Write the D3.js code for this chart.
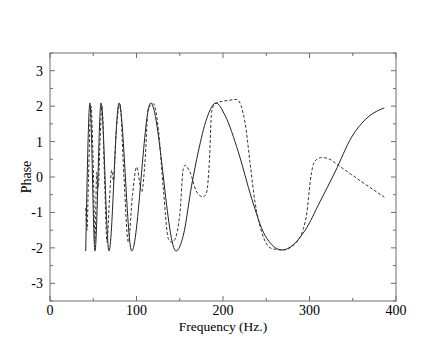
<!DOCTYPE html>
<html>
<head>
<meta charset="utf-8">
<script src="https://cdn.jsdelivr.net/npm/d3@7"></script>
<style>
  body { margin: 0; background: #fff; }
  text { font-family: "Liberation Serif", "DejaVu Serif", serif; }
</style>
</head>
<body>
<div id="chart"></div>
<script>
// data: frequency (Hz.) and phase
const solidFreq  = [41.3, 46.2, 52.0, 59.0, 68.2, 79.8, 94.5, 116.4, 145.7, 154.1, 163.8, 171.4, 181.2, 191.9, 202.3, 217.7, 233.2, 248.6, 268.2, 294.8, 312.1, 329.5, 348.8, 367.6, 386.5];
const solidPhase = [-2.09, 2.09, -2.09, 2.09, -2.09, 2.09, -2.09, 2.09, -2.09, -1.65, -0.23, 0.71, 1.65, 2.09, 1.74, 0.71, -0.61, -1.65, -2.06, -1.51, -0.7, 0.14, 1.13, 1.69, 1.95];

const dashFreq  = [41.3, 42.8, 44.5, 47.4, 50.3, 52.0, 54.0, 55.8, 57.8, 60.1, 63.0, 65.9, 68.8, 71.3, 73.4, 76.3, 80.9, 85.5, 90.5, 95.4, 100.2, 106.0, 109.8, 113.6, 119.4, 125.2, 131.0, 136.8, 140.7, 143.4, 150.3, 154.1, 156.1, 161.8, 169.6, 177.2, 181.2, 184.2, 186.9, 190.8, 208.1, 215.8, 225.4, 231.2, 237.0, 244.7, 256.3, 269.4, 281.3, 292.8, 297.0, 300.5, 304.3, 308.5, 314.3, 323.5, 333.3, 359.5, 386.5];
const dashPhase = [-0.88, -1.5, 0.0, 2.0, 0.0, -1.84, 0.14, -0.3, 1.0, 2.0, 0.0, -1.84, -0.6, 0.19, -0.1, 1.2, 2.05, 0.0, -1.84, -0.5, 0.28, -0.42, 0.42, 1.93, 2.07, 1.37, -0.33, -1.74, -1.84, -1.8, -0.99, 0.24, 0.33, 0.14, -0.42, -0.56, -0.42, 0.42, 1.84, 2.07, 2.17, 2.19, 1.55, 0.42, -0.71, -1.55, -2.02, -2.06, -1.93, -1.46, -1.0, -0.2, 0.35, 0.5, 0.55, 0.5, 0.33, -0.12, -0.57];

const xTicks = [0, 100, 200, 300, 400];
const yTicks = [-3, -2, -1, 0, 1, 2, 3];

const W = 445, H = 354;
const margin = {top: 53, right: 49, bottom: 53, left: 50};
const width = W - margin.left - margin.right;
const height = H - margin.top - margin.bottom;

const svg = d3.select("#chart").append("svg")
  .attr("width", W).attr("height", H);

const g = svg.append("g")
  .attr("transform", `translate(${margin.left},${margin.top})`);

const x = d3.scaleLinear().domain([0, 400]).range([0, width]);
const y = d3.scaleLinear().domain([-3.5, 3.5]).range([height, 0]);

const axisColor = "#6e6e6e";

// major + minor ticks, drawn inside on all four sides
const xMinor = d3.range(0, 401, 50);
const yMinor = d3.range(-3.5, 3.51, 0.5);

// frame
g.append("rect")
  .attr("x", 0).attr("y", 0).attr("width", width).attr("height", height)
  .attr("fill", "none").attr("stroke", axisColor).attr("stroke-width", 1);

const tickG = g.append("g").attr("stroke", axisColor).attr("stroke-width", 1);

xMinor.forEach(v => {
  const len = v % 100 === 0 ? 5 : 3;
  tickG.append("line").attr("x1", x(v)).attr("x2", x(v)).attr("y1", height).attr("y2", height - len);
  tickG.append("line").attr("x1", x(v)).attr("x2", x(v)).attr("y1", 0).attr("y2", len);
});
yMinor.forEach(v => {
  const len = Number.isInteger(v) ? 5 : 3;
  tickG.append("line").attr("x1", 0).attr("x2", len).attr("y1", y(v)).attr("y2", y(v));
  tickG.append("line").attr("x1", width).attr("x2", width - len).attr("y1", y(v)).attr("y2", y(v));
});

// tick labels
g.selectAll(".xlab").data(xTicks).enter().append("text")
  .attr("class", "xlab")
  .attr("x", d => x(d)).attr("y", height + 14)
  .attr("text-anchor", "middle")
  .attr("font-size", 14)
  .text(d => d);

g.selectAll(".ylab").data(yTicks).enter().append("text")
  .attr("class", "ylab")
  .attr("x", -7).attr("y", d => y(d) + 5)
  .attr("text-anchor", "end")
  .attr("font-size", 14)
  .text(d => d);

// axis titles
g.append("text")
  .attr("x", width / 2).attr("y", height + 30)
  .attr("text-anchor", "middle")
  .attr("font-size", 13.5)
  .text("Frequency (Hz.)");

g.append("text")
  .attr("transform", `translate(-19,${height / 2}) rotate(-90)`)
  .attr("text-anchor", "middle")
  .attr("font-size", 14)
  .text("Phase");

// curves
const line = d3.line()
  .x(d => x(d[0])).y(d => y(d[1]))
  .curve(d3.curveMonotoneX);

g.append("path")
  .datum(d3.zip(solidFreq, solidPhase))
  .attr("fill", "none").attr("stroke", "#222").attr("stroke-width", 1)
  .attr("d", line);

g.append("path")
  .datum(d3.zip(dashFreq, dashPhase))
  .attr("fill", "none").attr("stroke", "#333").attr("stroke-width", 1)
  .attr("stroke-dasharray", "3,2")
  .attr("d", line);
</script>
</body>
</html>
